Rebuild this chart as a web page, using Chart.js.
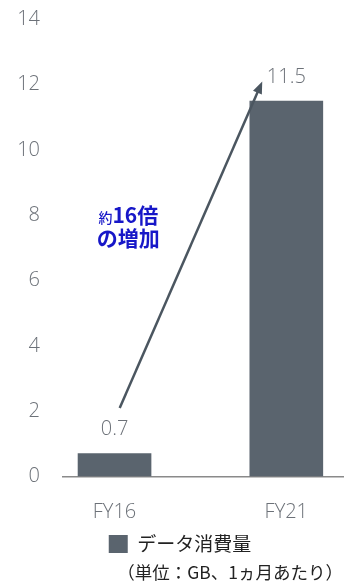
<!DOCTYPE html>
<html lang="ja">
<head>
<meta charset="utf-8">
<script src="https://cdn.jsdelivr.net/npm/chart.js@4"></script>
<style>
  html, body { margin: 0; padding: 0; background: #fff; }
  #wrap { width: 355px; height: 581px; }
</style>
</head>
<body>
<div id="wrap"><canvas id="chart"></canvas></div>
<script>
// data
const categories = ['FY16', 'FY21'];
const usageGB = [0.7, 11.5];
const valueLabels = ['0.7', '11.5'];
const yTicks = [0, 2, 4, 6, 8, 10, 12, 14];
const seriesName = 'データ消費量';
const unitNote = '（単位：GB、1ヵ月あたり）';
const growthText = ['約', '16倍', 'の増加'];

const barColor = '#5a646e';
const tickColor = '#6c7178';
const blue = '#1717c8';
const latinFont = '"Open Sans", sans-serif';
const jpFont = '"Noto Sans CJK JP", "Noto Sans", sans-serif';

// arrow + note anchors in data space (x = category index, y = GB)
const arrowFrom = { x: 0.03, y: 2.1 };
const arrowTo = { x: 0.86, y: 12.1 };
const noteAt = [{ x: 0.08, y: 8.0 }, { x: 0.08, y: 7.3 }];

const valueLabelPlugin = {
  id: 'valueLabels',
  afterDatasetsDraw(chart) {
    const { ctx } = chart;
    const meta = chart.getDatasetMeta(0);
    ctx.save();
    ctx.font = '300 20px ' + latinFont;
    ctx.fillStyle = tickColor;
    ctx.textAlign = 'center';
    ctx.textBaseline = 'middle';
    meta.data.forEach((bar, i) => {
      ctx.fillText(valueLabels[i], bar.x, bar.y - 24);
    });
    ctx.restore();
  }
};

const growthPlugin = {
  id: 'growth',
  afterDatasetsDraw(chart) {
    const { ctx, scales: { x, y } } = chart;
    const x1 = x.getPixelForValue(arrowFrom.x), y1 = y.getPixelForValue(arrowFrom.y);
    const x2 = x.getPixelForValue(arrowTo.x), y2 = y.getPixelForValue(arrowTo.y);
    const ang = Math.atan2(y2 - y1, x2 - x1);
    const head = 13;
    ctx.save();
    ctx.strokeStyle = '#4b5660';
    ctx.fillStyle = '#4b5660';
    ctx.lineWidth = 2.5;
    ctx.beginPath();
    ctx.moveTo(x1, y1);
    ctx.lineTo(x2 - Math.cos(ang) * head * 0.8, y2 - Math.sin(ang) * head * 0.8);
    ctx.stroke();
    ctx.beginPath();
    ctx.moveTo(x2, y2);
    ctx.lineTo(x2 - head * Math.cos(ang - 0.38), y2 - head * Math.sin(ang - 0.38));
    ctx.lineTo(x2 - head * Math.cos(ang + 0.38), y2 - head * Math.sin(ang + 0.38));
    ctx.closePath();
    ctx.fill();

    // note text
    ctx.fillStyle = blue;
    ctx.textBaseline = 'middle';
    const cx = x.getPixelForValue(noteAt[0].x);
    const small = '500 14px ' + jpFont;
    const big = 'bold 21px ' + jpFont;
    ctx.font = small;
    const w1 = ctx.measureText(growthText[0]).width;
    ctx.font = big;
    const w2 = ctx.measureText(growthText[1]).width;
    const sx = cx - (w1 + w2) / 2;
    const ly = y.getPixelForValue(noteAt[0].y);
    ctx.textAlign = 'left';
    ctx.font = small;
    ctx.fillText(growthText[0], sx, ly + 2);
    ctx.font = big;
    ctx.fillText(growthText[1], sx + w1, ly);
    ctx.textAlign = 'center';
    ctx.fillText(growthText[2], cx, y.getPixelForValue(noteAt[1].y));
    ctx.restore();
  }
};

new Chart(document.getElementById('chart'), {
  type: 'bar',
  data: {
    datasets: [{
      label: seriesName,
      data: usageGB.map((v, i) => ({ x: i, y: v })),
      backgroundColor: barColor,
      barThickness: 73
    }]
  },
  options: {
    responsive: true,
    maintainAspectRatio: false,
    animation: false,
    layout: { padding: { top: 19.5, left: 17, right: 12, bottom: 0 } },
    scales: {
      x: {
        type: 'linear',
        offset: false,
        min: -0.3,
        max: 1.33,
        grid: { display: false, drawTicks: false },
        border: { display: true, color: '#8a8a8a', width: 1.5 },
        afterBuildTicks: axis => { axis.ticks = categories.map((_, i) => ({ value: i })); },
        afterFit: s => { s.height = 50; s.paddingLeft = 0; s.paddingRight = 0; },
        ticks: {
          color: tickColor,
          padding: 24,
          font: { family: latinFont, size: 20, weight: '300' },
          callback: v => categories[v]
        }
      },
      y: {
        min: 0,
        max: 14,
        grid: { display: false, drawTicks: false },
        border: { display: false },
        afterBuildTicks: axis => { axis.ticks = yTicks.map(v => ({ value: v })); },
        afterFit: s => { s.width = 46; s.paddingTop = 0; s.paddingBottom = 0; },
        ticks: {
          color: tickColor,
          padding: 23,
          font: { family: latinFont, size: 20, weight: '300' }
        }
      }
    },
    plugins: {
      legend: {
        position: 'bottom',
        labels: {
          boxWidth: 19,
          boxHeight: 18,
          padding: 8,
          color: '#222',
          font: { family: jpFont, size: 19 }
        }
      },
      subtitle: {
        display: true,
        position: 'bottom',
        align: 'end',
        text: unitNote,
        color: '#222',
        font: { family: jpFont, size: 17.5, weight: 'normal', lineHeight: 1 },
        padding: { top: 0, bottom: 0 }
      },
      tooltip: { enabled: false }
    }
  },
  plugins: [valueLabelPlugin, growthPlugin]
});
</script>
</body>
</html>
